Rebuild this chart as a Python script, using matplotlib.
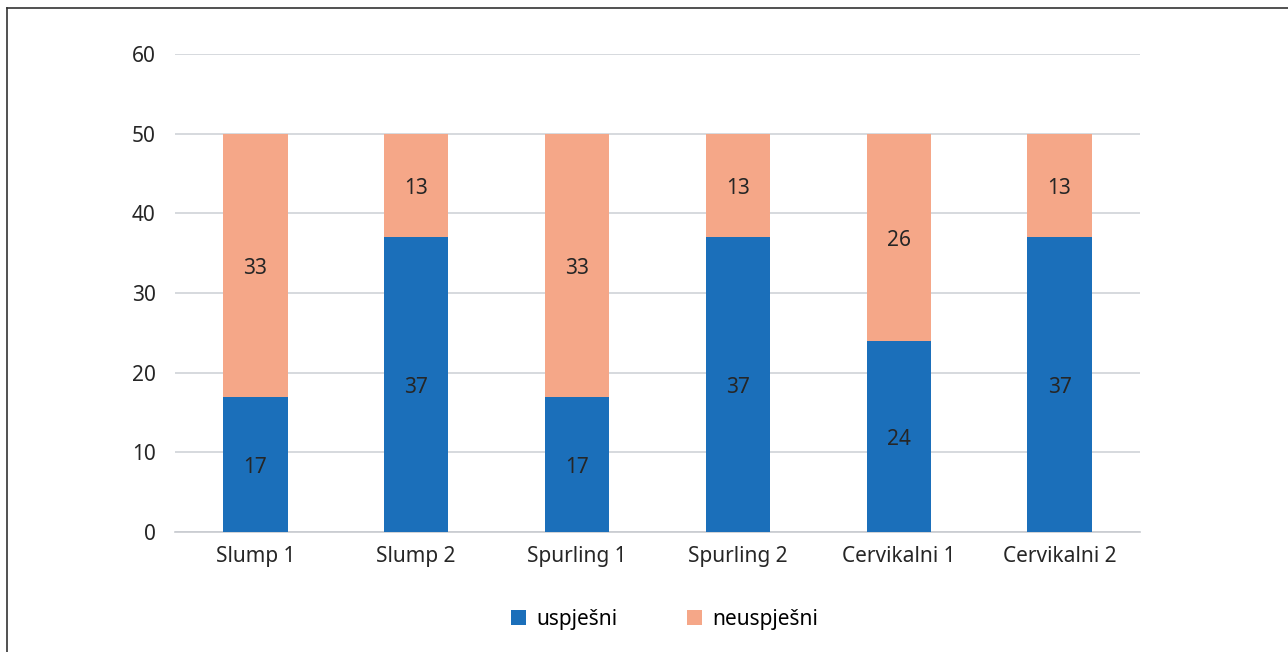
import matplotlib.pyplot as plt
import numpy as np

categories = ["Slump 1", "Slump 2", "Spurling 1", "Spurling 2", "Cervikalni 1", "Cervikalni 2"]
uspjesni = [17, 37, 17, 37, 24, 37]
neuspjesni = [33, 13, 33, 13, 26, 13]

plt.rcParams['font.family'] = ['Noto Sans', 'DejaVu Sans']
fs = 15

fig = plt.figure(figsize=(12.88, 6.52), dpi=100)
ax = fig.add_axes([175 / 1288, 1 - 532 / 652, 965 / 1288, 478 / 652])

x = np.arange(len(categories))
blue = "#1B6FBA"
salmon = "#F5A788"
b1 = ax.bar(x, uspjesni, width=0.4, color=blue, label="uspješni", zorder=3)
b2 = ax.bar(x, neuspjesni, width=0.4, bottom=uspjesni, color=salmon, label="neuspješni", zorder=3)

for i in range(len(categories)):
    ax.text(x[i], uspjesni[i] / 2 - 0.4, str(uspjesni[i]), ha="center", va="center",
            fontsize=fs, color="#262626", zorder=4)
    ax.text(x[i], uspjesni[i] + neuspjesni[i] / 2 - 0.4, str(neuspjesni[i]), ha="center", va="center",
            fontsize=fs, color="#262626", zorder=4)

ax.set_xlim(-0.5, len(categories) - 0.5)
ax.set_ylim(0, 60)
ax.set_yticks(range(0, 61, 10))
ax.set_xticks(x)
ax.set_xticklabels(categories)
ax.tick_params(axis="both", length=0, labelsize=fs, colors="#262626")
ax.tick_params(axis="y", pad=14)
ax.tick_params(axis="x", pad=10)
ax.yaxis.grid(True, color="#D0D3D8", linewidth=1.2, zorder=0)
for s in ["top", "right", "left"]:
    ax.spines[s].set_visible(False)
ax.spines["bottom"].set_color("#C8CBD0")
ax.spines["bottom"].set_linewidth(1.2)

fig.legend(handles=[b1, b2], loc="center", bbox_to_anchor=(0.516, 1 - 619 / 652), ncol=2,
           frameon=False, fontsize=fs, handlelength=0.75, handleheight=0.75,
           columnspacing=3.3, handletextpad=0.5)

# frame lines top and left
fig.add_artist(plt.Line2D([7 / 1288, 7 / 1288], [0, 1 - 8 / 652], color="#333333", linewidth=1.2))
fig.add_artist(plt.Line2D([7 / 1288, 1], [1 - 8 / 652, 1 - 8 / 652], color="#333333", linewidth=1.2))

fig.savefig("out.png", dpi=100)
